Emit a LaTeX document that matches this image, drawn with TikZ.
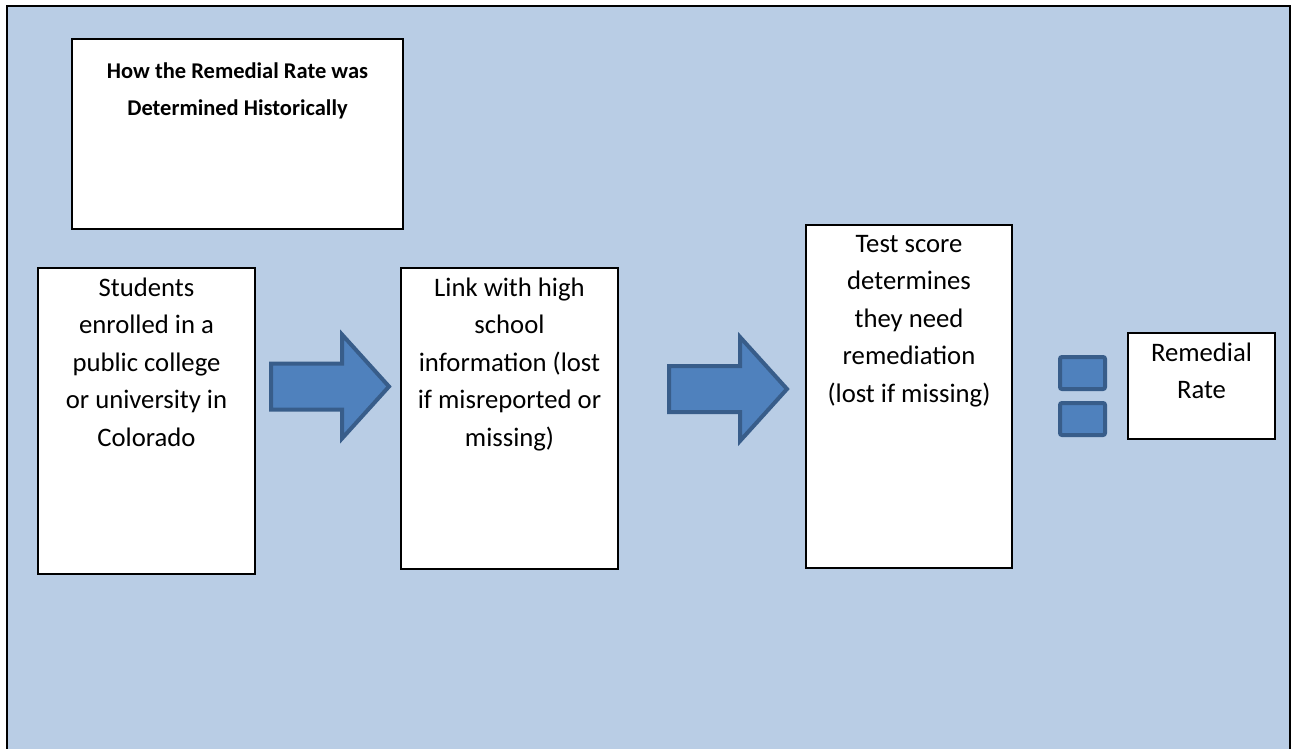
\documentclass[tikz,border=0pt]{standalone}
\usepackage{fontspec}
\setmainfont{Carlito}
\usetikzlibrary{positioning}
\definecolor{panelblue}{RGB}{185,205,229}
\definecolor{arrowfill}{RGB}{79,129,189}
\definecolor{arrowline}{RGB}{56,93,138}

\begin{document}
\begin{tikzpicture}[x=1pt,y=-1pt,
        stepbox/.style={draw=black,line width=2pt,fill=white,inner sep=0pt,anchor=north west},
        boxtext/.style={align=center,anchor=north,inner sep=0pt,
            font=\fontsize{26.7}{37.5}\selectfont,execute at begin node={\strut}},
        flowarrow/.style={fill=arrowfill,draw=arrowline,line width=4pt,line join=miter},
        eqbar/.style={fill=arrowfill,draw=arrowline,line width=4pt,rounded corners=2pt}]
        \useasboundingbox (0,0) rectangle (1294,748);
        \clip (0,0) rectangle (1294,748);
        \fill[white] (0,0) rectangle (1294,748);
        \draw[line width=2pt,fill=panelblue] (7,6) rectangle (1290,770);

        % title
        \node[stepbox,minimum width=331pt,minimum height=190pt] (title) at (71,38) {};
        \node[boxtext,font=\fontsize{22.5}{37}\selectfont\bfseries] (titletext) at ([yshift=-25pt]title.north)
            {How the Remedial Rate was\\Determined Historically};

        % steps
        \node[stepbox,minimum width=217pt,minimum height=306pt] (students) at (37,267) {};
        \node[boxtext] (studentstext) at ([yshift=-10.75pt]students.north)
            {Students\\enrolled in a\\public college\\or university in\\Colorado};

        \node[stepbox,minimum width=217pt,minimum height=301pt] (linkhs) at (400,267) {};
        \node[boxtext] (linkhstext) at ([yshift=-10.75pt]linkhs.north)
            {Link with high\\school\\information (lost\\if misreported or\\missing)};

        \node[stepbox,minimum width=206pt,minimum height=343pt] (testscore) at (805,224) {};
        \node[boxtext] (testscoretext) at ([yshift=-10.75pt]testscore.north)
            {Test score\\determines\\they need\\remediation\\(lost if missing)};

        \node[stepbox,minimum width=147pt,minimum height=106pt] (remrate) at (1127,332) {};
        \node[boxtext] (remratetext) at ([yshift=-10.75pt]remrate.north)
            {Remedial\\Rate};

        % block arrows
        \draw[flowarrow,shift={(269,386.5)}] (2,-23) -- (73,-23) -- (73,-52) -- (120,0)
            -- (73,52) -- (73,23) -- (2,23) -- cycle;
        \draw[flowarrow,shift={(667,389)}] (2,-23) -- (73,-23) -- (73,-52) -- (120,0)
            -- (73,52) -- (73,23) -- (2,23) -- cycle;

        % equals sign
        \draw[eqbar] (1060,357) rectangle (1105,389);
        \draw[eqbar] (1060,403) rectangle (1105,435);
\end{tikzpicture}
\end{document}
